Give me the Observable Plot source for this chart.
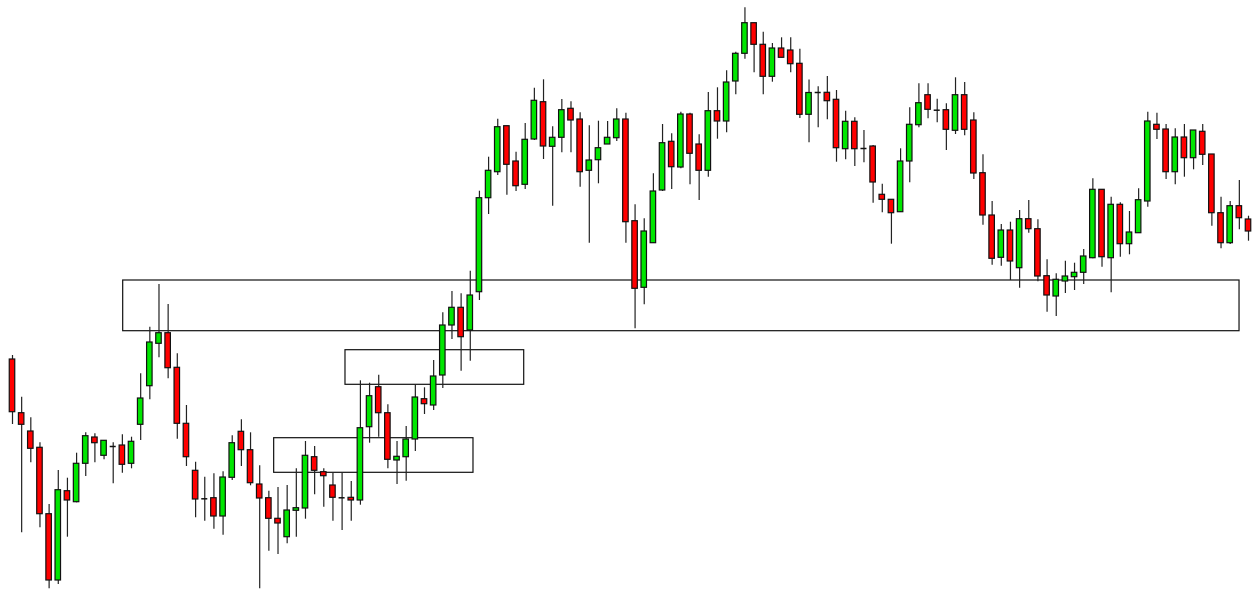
<!DOCTYPE html>
<html>
<head>
<meta charset="utf-8">
<script src="https://cdn.jsdelivr.net/npm/d3@7"></script>
<script src="https://cdn.jsdelivr.net/npm/@observablehq/plot@0.6"></script>
<style>
  html, body { margin: 0; padding: 0; background: #ffffff; }
  #chart svg { display: block; }
</style>
</head>
<body>
<div id="chart"></div>
<script>
// OHLC prices, one entry per candle (136 candles)
const opens = [
  241, 187.3, 169, 152.7, 86.3, 20, 109.3, 98.3, 136.7, 163,
  144.7, 154, 155, 136.7, 175.7, 214.3, 256.7, 267.3, 232.7, 176.7,
  129.7, 101.7, 102.3, 84, 122.7, 168.7, 150.3, 116, 102.3, 81.7,
  63.3, 89.7, 92, 143.3, 128.3, 115, 102.7, 102.7, 100, 173.3,
  213.3, 187.3, 140, 143.3, 161, 201.3, 195, 225, 275, 292.7,
  270, 308.3, 402.3, 428.3, 474.3, 439, 415.7, 461, 498.3, 453.7,
  462.7, 491.7, 481, 429.7, 440.3, 456, 462.3, 481, 379.3, 312.7,
  357.3, 410, 458.7, 433, 486, 456, 429.7, 489.3, 479, 519,
  546.7, 577.3, 555.7, 523.7, 552, 550, 536.7, 485.7, 508, 507.7,
  500.7, 451.3, 478.7, 452, 454, 405.7, 400.7, 388.3, 439, 475.3,
  505.3, 490.3, 490.3, 469.7, 505.3, 480, 427.3, 385, 342.7, 370,
  332.3, 381.3, 371.3, 324.3, 304, 319, 323.3, 327.7, 342.3, 410.7,
  342.3, 395.7, 356.3, 367.3, 399, 475.7, 471, 428.3, 463, 442.3,
  468.7, 446, 387.3, 357.3, 394.3, 381
];
const highs = [
  245, 203.3, 182.7, 157.7, 96, 130, 122.3, 147.3, 167.7, 166.7,
  160, 157.7, 165.7, 163.3, 226.7, 273.3, 316, 296, 246.7, 195,
  138.3, 123.3, 126.7, 128.7, 164.7, 180.7, 167.7, 134.7, 109.3, 113,
  115, 131.7, 159, 154, 131.7, 127.3, 127.3, 119, 219.7, 217.3,
  225.3, 195.7, 159, 174, 215.7, 212.7, 240, 287.7, 309, 306.7,
  329.3, 409.3, 443.3, 481.3, 474.3, 448.3, 477, 512.3, 520.7, 473.7,
  501, 498.7, 487.7, 474.7, 479.3, 479, 491.7, 487.3, 395.7, 381.7,
  426.7, 476, 466.7, 488.3, 487.3, 465.7, 508, 512.7, 529.7, 548.3,
  592.7, 577.3, 568.3, 557, 562.7, 562.7, 551.3, 520.5, 513.7, 524,
  510, 489.3, 482.7, 470, 455, 416.3, 400.7, 451.7, 492.7, 516.7,
  516.7, 501.3, 496.7, 522.7, 518, 487.7, 445.7, 399, 376, 378.3,
  390, 400, 380.7, 340.7, 326.7, 339.3, 337.3, 351, 421.7, 410.7,
  403.3, 397.7, 389, 411.7, 488.3, 487.3, 476, 471.7, 476, 470,
  476, 446, 403.3, 399, 420, 384.3
];
const lows = [
  176, 67.7, 137.7, 72.7, 11.7, 16, 63.3, 97.7, 124, 137.7,
  140.7, 116.7, 127.3, 131.7, 160, 200.7, 242.7, 221.7, 161.3, 134,
  82.7, 79.3, 71.3, 65.3, 120, 134, 114.7, 11.7, 49.3, 46,
  56.7, 63.3, 81.3, 105.7, 93.3, 79.3, 70, 79.3, 95.3, 157.3,
  163.3, 131.7, 116, 119.3, 149, 186, 190, 212, 261, 229.3,
  239.3, 300, 386, 425, 405.3, 409, 411, 460, 441, 394.3,
  447.7, 447.7, 413.3, 357.3, 416.7, 456, 459, 357.3, 271.7, 295.7,
  357.3, 409, 411, 431.7, 415.7, 400, 423.3, 461.3, 467.7, 505.7,
  541.3, 527.7, 505.7, 518.3, 542.7, 527.7, 482, 457.8, 472.7, 480.7,
  438.3, 440.7, 434, 437.7, 397.3, 387.7, 356.3, 388.3, 417.7, 472.7,
  481.7, 477.7, 450, 466, 464.7, 421, 375.3, 335.3, 334.3, 320,
  312.3, 367.3, 318.7, 288.3, 284, 307, 310, 316, 341.7, 333.3,
  307.7, 343.3, 345.7, 367.3, 393.3, 461, 421, 415.7, 423.3, 430.7,
  435, 374.3, 351.7, 356, 370.7, 359.3
];
const closes = [
  188.3, 175.7, 151.7, 86.3, 20, 110.3, 100, 136.7, 164.3, 157.3,
  159.7, 154, 135.7, 158.7, 202, 258, 267.3, 232.3, 176.7, 143.3,
  101, 101.7, 84, 123, 157.3, 150.3, 117.3, 102, 81.7, 77,
  90, 92.3, 144.7, 129.7, 124.3, 102.7, 102.7, 100, 172.3, 204.3,
  187.3, 140.7, 143.7, 161, 203, 196.3, 224, 275, 292.7, 263.3,
  305, 402.3, 429.7, 473.3, 435.7, 414.3, 460.7, 499.7, 454, 462.7,
  490.3, 480, 428.3, 440, 452.3, 462.7, 481, 378.3, 311.7, 369,
  409, 457.3, 433.3, 486, 446.7, 429.7, 489.3, 479, 518, 546.7,
  577.3, 555.7, 523.7, 552, 542.7, 536.3, 485.7, 507.5, 508, 499.3,
  452.3, 478.7, 451.3, 452, 418, 400.7, 387.3, 439, 475.7, 497.3,
  490.7, 490.3, 470.7, 505.3, 470.7, 427, 385, 341.7, 370, 339,
  381.3, 371.3, 324, 305, 320.7, 324, 327.7, 344, 410.7, 343.3,
  395.7, 356.3, 368, 400.3, 479, 470.7, 428.3, 463, 442.3, 470,
  445.7, 387.3, 357.3, 394.3, 382.3, 369
];

// Rectangular zones drawn on the chart (candle index span, price span)
const zoneStart = [12.09, 36.37, 28.58];
const zoneEnd   = [134.02, 55.89, 50.35];
const zoneTop   = [320, 250.3, 162.3];
const zoneBottom = [269.3, 215.7, 127.7];

const candles = opens.map((o, i) => ({
  i, open: o, high: highs[i], low: lows[i], close: closes[i]
}));
const bodies = candles.filter(d => d.open !== d.close);
const dojis = candles.filter(d => d.open === d.close);
const zones = zoneStart.map((s, k) => ({
  x1: s, x2: zoneEnd[k], y1: zoneBottom[k], y2: zoneTop[k]
}));

const chart = Plot.plot({
  width: 1259,
  height: 589,
  marginTop: 0,
  marginBottom: 0,
  marginLeft: 12,
  marginRight: 11,
  style: { background: "#ffffff" },
  x: { domain: [0, candles.length - 1], axis: null },
  y: { domain: [11, 600], axis: null },
  marks: [
    Plot.rect(zones, {
      x1: "x1", x2: "x2", y1: "y1", y2: "y2",
      fill: "none", stroke: "#111", strokeWidth: 1.2
    }),
    Plot.ruleX(candles, {
      x: "i", y1: "low", y2: "high", stroke: "#222", strokeWidth: 1.2
    }),
    Plot.rect(bodies, {
      x1: d => d.i - 0.3, x2: d => d.i + 0.3,
      y1: "open", y2: "close",
      fill: d => d.close > d.open ? "#00e600" : "#ff0000",
      stroke: "#111", strokeWidth: 1.2
    }),
    Plot.ruleY(dojis, {
      y: "close", x1: d => d.i - 0.33, x2: d => d.i + 0.33,
      stroke: "#111", strokeWidth: 1.5
    })
  ]
});
document.getElementById("chart").appendChild(chart);
</script>
</body>
</html>
